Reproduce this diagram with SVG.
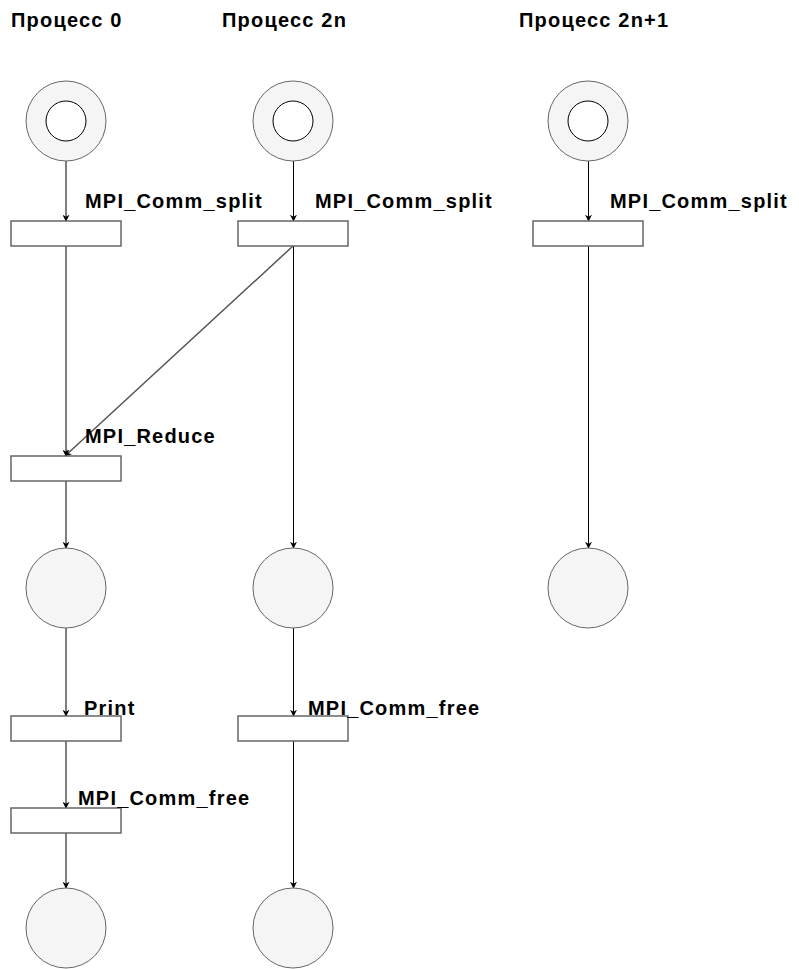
<svg xmlns="http://www.w3.org/2000/svg" width="799" height="969" viewBox="0 0 799 969">
<defs>
<style>
.t{font-family:"Liberation Sans",Arial,sans-serif;font-weight:bold;font-size:20px;letter-spacing:1.2px;fill:#000}
.p{fill:#f5f5f5;stroke:#666;stroke-width:1}
.tok{fill:#fff;stroke:#000;stroke-width:1}
.tr{fill:#fff;stroke:#666;stroke-width:1.5}
.e{fill:none;stroke:#000;stroke-width:1;marker-end:url(#a)}
.eg{fill:none;stroke:#555;stroke-width:1.5;marker-end:url(#a)}
</style>
<marker id="a" viewBox="0 0 10 10" refX="9" refY="5" markerWidth="7" markerHeight="7" markerUnits="userSpaceOnUse" orient="auto">
<path d="M0,0 L10,5 L0,10 L3,5 Z" fill="#000"/>
</marker>
</defs>
<rect width="799" height="969" fill="#fff"/>
<g id="titles">
<text class="t" x="11" y="27">Процесс 0</text>
<text class="t" x="222" y="27">Процесс 2n</text>
<text class="t" x="519" y="27">Процесс 2n+1</text>
</g>
<g id="connectors">
<path class="eg" d="M66,161 V221"/>
<path class="e" d="M293.5,161 V221"/>
<path class="e" d="M588.5,161 V221"/>
<path class="eg" d="M66,246 V456"/>
<path class="eg" d="M293,246 L65,456"/>
<path class="e" d="M293.5,246 V548"/>
<path class="e" d="M588.5,246 V548"/>
<path class="eg" d="M66,481 V548"/>
<path class="eg" d="M66,628 V716"/>
<path class="e" d="M293.5,628 V716"/>
<path class="eg" d="M66,741 V808"/>
<path class="eg" d="M66,833 V888"/>
<path class="e" d="M293.5,741 V888"/>
</g>
<g id="p0-start"><circle class="p" cx="66" cy="121" r="40"/><circle class="tok" cx="66" cy="121" r="20"/></g>
<g id="p2n-start"><circle class="p" cx="293" cy="121" r="40"/><circle class="tok" cx="293" cy="121" r="20"/></g>
<g id="p2n1-start"><circle class="p" cx="588" cy="121" r="40"/><circle class="tok" cx="588" cy="121" r="20"/></g>
<g id="t0-split"><rect class="tr" x="11" y="221" width="110" height="25"/><text class="t" x="85" y="208">MPI_Comm_split</text></g>
<g id="t2n-split"><rect class="tr" x="238" y="221" width="110" height="25"/><text class="t" x="315" y="208">MPI_Comm_split</text></g>
<g id="t2n1-split"><rect class="tr" x="533" y="221" width="110" height="25"/><text class="t" x="610" y="208">MPI_Comm_split</text></g>
<g id="t0-reduce"><rect class="tr" x="11" y="456" width="110" height="25"/><text class="t" x="85" y="443">MPI_Reduce</text></g>
<g id="p0-mid"><circle class="p" cx="66" cy="588" r="40"/></g>
<g id="p2n-mid"><circle class="p" cx="293" cy="588" r="40"/></g>
<g id="p2n1-mid"><circle class="p" cx="588" cy="588" r="40"/></g>
<g id="t0-print"><rect class="tr" x="11" y="716" width="110" height="25"/><text class="t" x="84" y="715">Print</text></g>
<g id="t2n-free"><rect class="tr" x="238" y="716" width="110" height="25"/><text class="t" x="308" y="715">MPI_Comm_free</text></g>
<g id="t0-free"><rect class="tr" x="11" y="808" width="110" height="25"/><text class="t" x="78" y="805">MPI_Comm_free</text></g>
<g id="p0-end"><circle class="p" cx="66" cy="928" r="40"/></g>
<g id="p2n-end"><circle class="p" cx="293" cy="928" r="40"/></g>
</svg>
